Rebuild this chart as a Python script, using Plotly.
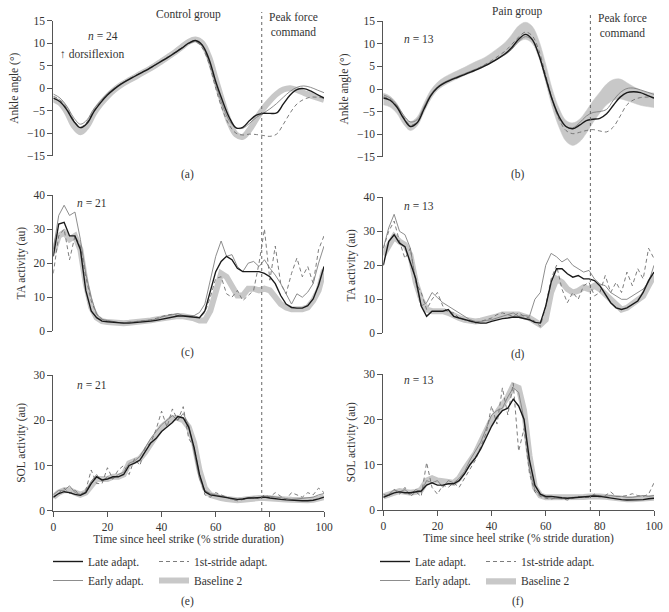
import plotly.graph_objects as go

# ---------------- data ----------------
x_ang = [0, 2.5, 5, 7.5, 10, 12.5, 15, 17.5, 20, 22.5, 25, 27.5, 30, 32.5, 35, 37.5, 40, 42.5, 45, 47.5,
         50, 52.5, 55, 57.5, 60, 62.5, 65, 67.5, 70, 72.5, 75, 77.5, 80, 82.5, 85, 87.5, 90, 92.5, 95, 97.5, 100]
x_emg = [0, 2, 4, 6, 8, 10, 12, 14, 16, 18, 20, 22, 24, 26, 28, 30, 32, 34, 36, 38, 40, 42, 44, 46, 48,
         50, 52, 54, 56, 58, 60, 62, 64, 66, 68, 70, 72, 74, 76, 78, 80, 82, 84, 86, 88, 90, 92, 94, 96, 98, 100]

series_names = ["Late adapt.", "Early adapt.", "1st-stride adapt.", "Baseline 2"]

# (a) ankle angle, control
a_late = [-2.2, -3.0, -4.8, -7.3, -8.8, -7.8, -5.2, -3.2, -1.5, -0.2, 0.9, 1.8, 2.6, 3.4, 4.2, 5.1, 6.0, 6.9, 7.9, 8.9,
          10.0, 10.6, 9.6, 6.5, 1.5, -2.8, -6.5, -8.8, -8.7, -7.2, -6.0, -5.6, -5.6, -5.5, -3.5, -1.5, -0.3, -0.1, -0.6, -1.4, -2.2]
a_early = [-1.3, -2.2, -4.0, -6.5, -8.0, -7.0, -4.6, -2.8, -1.2, 0.0, 1.0, 1.9, 2.7, 3.5, 4.3, 5.2, 6.1, 7.0, 8.0, 9.0,
           10.0, 10.5, 9.4, 6.0, 0.8, -3.8, -7.2, -8.8, -8.9, -7.8, -6.5, -5.6, -4.6, -3.4, -2.0, -0.7, 0.2, 0.5, 0.2, -0.4, -1.0]
a_dash = [-1.8, -2.6, -4.5, -7.0, -8.6, -7.5, -5.0, -3.0, -1.4, -0.1, 1.0, 1.9, 2.7, 3.5, 4.3, 5.2, 6.1, 7.0, 8.0, 9.0,
          9.9, 10.3, 9.0, 5.5, 0.0, -4.8, -8.2, -10.0, -10.4, -10.2, -10.3, -10.5, -10.7, -10.2, -8.0, -5.5, -3.5, -2.5, -2.0, -2.0, -2.2]
a_base = [-2.5, -3.3, -5.3, -8.3, -9.8, -8.4, -5.6, -3.5, -1.8, -0.4, 0.7, 1.6, 2.4, 3.3, 4.1, 5.0, 6.0, 7.0, 8.0, 9.2,
          10.3, 10.8, 10.0, 7.0, 2.0, -3.0, -7.5, -10.3, -10.8, -9.2, -6.8, -4.6, -2.8, -1.3, -0.3, 0.0, -0.4, -1.0, -1.6, -2.1, -2.6]

# (b) ankle angle, pain
b_late = [-2.0, -2.5, -4.0, -6.5, -8.3, -7.5, -4.5, -1.5, 0.3, 1.3, 2.0, 2.6, 3.2, 3.8, 4.4, 5.1, 5.9, 6.8, 7.8, 9.2,
          11.0, 12.1, 11.0, 7.5, 2.5, -2.5, -6.2, -8.3, -8.8, -8.0, -7.0, -6.7, -6.5, -5.5, -3.6, -1.8, -0.8, -0.6, -0.8, -1.4, -2.0]
b_early = [-1.3, -2.0, -3.5, -5.8, -7.3, -6.8, -4.0, -1.2, 0.5, 1.5, 2.2, 2.8, 3.4, 4.0, 4.6, 5.3, 6.0, 6.8, 7.6, 8.8,
           10.5, 11.6, 10.8, 7.5, 2.2, -2.8, -6.5, -8.4, -8.6, -7.5, -6.0, -5.2, -5.0, -4.5, -2.5, -0.8, 0.1, 0.2, -0.2, -0.7, -1.2]
b_dash = [-1.7, -2.3, -3.8, -6.2, -8.0, -7.3, -4.3, -1.4, 0.4, 1.4, 2.1, 2.7, 3.3, 3.9, 4.6, 5.4, 6.3, 7.3, 8.4, 9.9,
          11.5, 12.6, 11.8, 8.5, 3.0, -2.5, -6.8, -9.2, -9.9, -9.6, -9.2, -9.0, -9.3, -9.5, -8.4, -6.0, -3.5, -2.4, -1.9, -1.8, -2.0]
b_base = [-2.2, -2.8, -4.3, -6.8, -8.2, -7.2, -4.2, -1.3, 0.6, 1.7, 2.5, 3.2, 3.9, 4.6, 5.3, 6.0, 6.9, 7.9, 9.0, 10.6,
          12.2, 12.9, 12.0, 8.8, 3.5, -2.2, -6.5, -9.3, -10.0, -9.2, -7.3, -5.0, -3.0, -1.2, -0.2, 0.0, -0.6, -1.3, -1.9, -2.3, -2.5]
b_base_sd = [1.3, 1.2, 1.1, 1.0, 1.0, 1.0, 1.0, 1.0, 0.9, 0.9, 0.9, 0.9, 0.9, 1.0, 1.0, 1.0, 1.1, 1.2, 1.3, 1.5,
             1.8, 1.9, 1.9, 1.9, 2.0, 2.0, 2.1, 2.3, 2.5, 2.5, 2.5, 2.4, 2.3, 2.3, 2.3, 2.2, 2.0, 1.8, 1.7, 1.6, 1.6]

# (c) TA activity, control
c_late = [22, 31.5, 32, 28, 28, 24, 12, 6, 4, 3, 2.8, 2.6, 2.5, 2.4, 2.4, 2.5, 2.6, 2.8, 3.0, 3.2, 3.5, 3.9, 4.3, 4.5, 4.5,
          4.3, 4.0, 4.0, 6.0, 12, 17.5, 20.5, 22, 21, 18.5, 17.5, 17.5, 17.3, 17.5, 17, 16, 14, 10.5, 8, 7, 6.8, 6.8, 7.5, 9.5, 13.5, 19]
c_early = [24, 34, 37, 34, 35, 27, 17, 10, 5, 3.5, 3.2, 2.8, 2.6, 2.5, 2.7, 2.9, 3.0, 3.1, 3.3, 3.5, 4.2, 4.6, 5.0, 5.2, 4.6,
           4.5, 4.6, 5.5, 8, 15, 22, 26.5, 22, 22.5, 19, 17.5, 20, 20.5, 19, 21, 18.5, 16.5, 14, 11, 8, 11, 10, 11.5, 14, 20, 25]
c_dash = [17, 28, 30, 21, 28, 25, 16, 9, 5, 3.5, 3, 2.7, 2.5, 2.5, 2.7, 2.8, 3, 3.2, 3.3, 3.8, 4.3, 4.8, 5.0, 4.6, 4.6,
          4.3, 4.3, 4.0, 5.5, 10, 15.5, 16, 11, 10, 12, 9, 10.5, 12, 20, 30, 15, 25, 14, 11, 17, 21.5, 16, 19, 14, 24, 28]
c_base = [23, 28, 29, 27, 28, 24, 14, 7, 4, 3, 2.7, 2.5, 2.4, 2.4, 2.5, 2.6, 2.8, 3, 3.2, 3.5, 3.8, 4.1, 4.4, 4.5, 4.4,
          4.2, 3.8, 3.2, 3.2, 6, 12, 17, 16, 13, 10.5, 10.5, 12.5, 12.5, 12, 12.5, 12, 10, 8, 7, 6.5, 6.5, 6.5, 7, 9, 12, 18]

# (d) TA activity, pain
d_late = [20, 27, 29, 26.5, 25.5, 21, 16, 8, 5, 6.5, 6.5, 6.5, 7, 5, 4.5, 4, 3.5, 3.2, 3, 3, 3.5, 4, 4.3, 4.5, 4.8,
          4.7, 4.3, 4, 3.2, 3, 8, 15, 19, 19, 17.5, 16.5, 17, 16, 16, 15.5, 14, 11.5, 9, 7.5, 7, 7.5, 8.5, 9.5, 12, 15.5, 18]
d_early = [25, 31, 35, 30, 29, 25, 15, 8, 9, 12, 10.5, 9, 8, 7, 6, 5, 4, 3.5, 3.5, 3.8, 4, 4.5, 5, 5.5, 6,
           5, 5.2, 5, 10, 12, 20, 23.5, 22.5, 21, 22, 20, 19, 18, 18.5, 16, 14.5, 14, 12, 11, 10, 10, 11, 12, 13, 15, 20]
d_dash = [25, 30, 33, 27, 22, 25, 15, 12, 7, 10, 12, 8, 6, 6, 4.5, 4, 3.5, 3, 3.5, 4, 4.5, 5.5, 6, 5.5, 5,
          6, 5, 4.5, 3.5, 2, 8, 16, 20, 13, 9, 12, 10, 14, 15, 11, 12, 17, 12, 15, 12, 18, 14, 19, 16, 25, 22]
d_base = [23, 26, 28.5, 27, 26, 23, 15, 10, 7, 6.5, 6.5, 6.5, 6, 5, 4.5, 4, 3.7, 3.5, 3.7, 4, 4.5, 5, 5.5, 5.5, 5.5,
          5.5, 5, 4.5, 3.5, 2.5, 4, 12, 16, 15, 13, 12, 12.5, 13.5, 13, 14, 13, 11.5, 9.5, 8, 7, 7.5, 8.5, 9.5, 11, 14, 17]

# (e) SOL activity, control
e_late = [3, 3.8, 4.2, 4, 3.6, 3.4, 4, 6, 7.5, 6.8, 7, 7.5, 7.5, 8, 10, 10.5, 11.2, 13, 15, 16, 17.5, 18.5, 19.5, 20.8, 20.5,
          18.5, 14, 8, 4.2, 3.5, 3.3, 3, 2.8, 2.6, 2.5, 2.6, 2.8, 2.8, 2.9, 3, 2.8, 2.6, 2.5, 2.4, 2.3, 2.3, 2.2, 2.2, 2.3, 2.6, 3]
e_early = [3.5, 4.5, 4.5, 5.5, 4, 3.6, 4.2, 6.5, 8, 6.5, 7.5, 7, 8, 8.5, 10.5, 11, 12, 14, 16, 17.5, 19, 20, 21, 20, 21.5,
           19, 13, 7, 4.5, 3.8, 3.5, 3.3, 3, 2.5, 2.4, 2.6, 2.8, 3, 2.8, 3.2, 3.2, 3, 2.8, 2.6, 2.5, 2.6, 2.7, 2.8, 3, 3.5, 3.8]
e_dash = [2.8, 4, 5, 3.8, 4.5, 3.5, 4.5, 9, 6, 6, 9.5, 7, 9, 10, 8, 11.5, 10, 14, 15, 18, 22, 18.5, 22.5, 20, 23,
          16, 14, 8, 3.5, 3, 4, 3.5, 3, 2.5, 2.2, 2.5, 2.7, 3, 2.6, 3.5, 3, 4, 3.2, 2.5, 4, 3.5, 3, 4, 3.5, 5, 4]
e_base = [3, 4, 4.5, 4.5, 4, 3.5, 4, 5.5, 7, 7, 7, 7.5, 7.5, 8, 10.5, 11, 11.5, 13, 15, 17, 18.5, 19.5, 20.5, 20.5, 20,
          18.5, 15, 9, 5, 3.5, 3, 2.8, 2.6, 2.4, 2.3, 2.4, 2.6, 2.7, 2.8, 2.8, 2.8, 2.7, 2.6, 2.5, 2.4, 2.3, 2.3, 2.3, 2.4, 2.6, 3]

# (f) SOL activity, pain
f_late = [2.8, 3.3, 3.8, 4, 3.8, 3.8, 4, 4.2, 5.5, 6, 5.5, 5.5, 5.8, 5.8, 6.5, 8, 10, 11.5, 13.5, 16, 18.5, 20.5, 22, 22.5, 24.5,
          23, 20, 11, 5.5, 3.5, 3, 3, 2.8, 2.7, 2.6, 2.7, 2.8, 2.9, 3, 3.1, 3, 2.8, 2.6, 2.5, 2.3, 2.2, 2.2, 2.3, 2.3, 2.5, 2.6]
f_early = [3, 3.5, 4.5, 4, 4.5, 3.5, 4.5, 4, 6.5, 6, 6.5, 5, 6.5, 6, 7, 8.5, 11, 13, 15, 18, 21, 22, 22.5, 25, 27,
           26, 20, 9, 4.5, 3.2, 2.8, 2.6, 2.5, 2.5, 2.6, 2.8, 2.8, 3, 3, 3.3, 3.2, 3, 3.2, 3, 3, 2.8, 2.8, 3, 3.2, 3, 3.2]
f_dash = [3.5, 3, 4.5, 3.5, 5, 3, 4, 3, 10.5, 5, 3.5, 5.5, 5, 6, 5, 7, 9, 11, 14, 17, 23, 19, 27, 21, 28,
          13, 18, 8, 4, 3, 2.6, 2.4, 2.8, 2.5, 2.2, 2.6, 3, 2.8, 2.8, 3.5, 3, 3.2, 4, 3, 3, 3.2, 3.6, 3.2, 3, 3.5, 6]
f_base = [3, 3.5, 4, 4.2, 4, 3.8, 4, 4.5, 6.5, 7, 6.5, 6.5, 6.2, 6, 7, 9, 10.5, 12.5, 15, 17.5, 20, 21.5, 23, 25, 27.5,
          27, 22, 12, 5, 3.2, 2.8, 2.8, 2.7, 2.6, 2.6, 2.7, 2.8, 2.9, 3, 3.1, 3, 2.9, 2.7, 2.6, 2.5, 2.4, 2.4, 2.4, 2.5, 2.6, 2.7]

peak_force = [77, 76.5]   # % stride of peak force command (control, pain)

# ---------------- styling ----------------
W, H = 669, 612
FONT = "Liberation Serif"
TXT = "#333333"
AX = "#555555"
C_LATE, C_EARLY, C_DASH, C_BASE = "#1a1a1a", "#808080", "#6e6e6e", "#c8c8c8"


def px(x):
    return x / W


def py(y):
    return 1 - y / H


fig = go.Figure()


def add_lines(xs, late, early, dash, base, ax, shape, base_mode="line", base_sd=None, legends=None):
    xa, ya = ("x" + ax, "y" + ax) if ax != "1" else ("x", "y")
    show = legends is not None
    lg1, lg2 = legends if show else ("legend", "legend")
    if base_mode == "line":
        fig.add_trace(go.Scatter(x=xs, y=base, mode="lines", name=series_names[3], xaxis=xa, yaxis=ya,
                                 line=dict(color=C_BASE, width=6, shape=shape), showlegend=show, legend=lg2,
                                 legendrank=2))
    else:
        up = [m + s for m, s in zip(base, base_sd)]
        lo = [m - s for m, s in zip(base, base_sd)]
        fig.add_trace(go.Scatter(x=xs, y=up, mode="lines", xaxis=xa, yaxis=ya, showlegend=False,
                                 line=dict(color=C_BASE, width=0.5, shape=shape), hoverinfo="skip"))
        fig.add_trace(go.Scatter(x=xs, y=lo, mode="lines", name=series_names[3], xaxis=xa, yaxis=ya,
                                 fill="tonexty", fillcolor=C_BASE, line=dict(color=C_BASE, width=0.5, shape=shape),
                                 showlegend=show, legend=lg2, legendrank=2))
    fig.add_trace(go.Scatter(x=xs, y=dash, mode="lines", name=series_names[2], xaxis=xa, yaxis=ya,
                             line=dict(color=C_DASH, width=0.9, dash="4px,3px", shape=shape),
                             showlegend=show, legend=lg2, legendrank=1))
    fig.add_trace(go.Scatter(x=xs, y=early, mode="lines", name=series_names[1], xaxis=xa, yaxis=ya,
                             line=dict(color=C_EARLY, width=0.9, shape=shape),
                             showlegend=show, legend=lg1, legendrank=2))
    fig.add_trace(go.Scatter(x=xs, y=late, mode="lines", name=series_names[0], xaxis=xa, yaxis=ya,
                             line=dict(color=C_LATE, width=1.4, shape=shape),
                             showlegend=show, legend=lg1, legendrank=1))


add_lines(x_ang, a_late, a_early, a_dash, a_base, "1", "spline", legends=("legend", "legend2"))
add_lines(x_ang, b_late, b_early, b_dash, b_base, "2", "spline", base_mode="band", base_sd=b_base_sd,
          legends=("legend3", "legend4"))
add_lines(x_emg, c_late, c_early, c_dash, c_base, "3", "linear")
add_lines(x_emg, d_late, d_early, d_dash, d_base, "4", "linear")
add_lines(x_emg, e_late, e_early, e_dash, e_base, "5", "linear")
add_lines(x_emg, f_late, f_early, f_dash, f_base, "6", "linear")

LX = [px(53.3), px(324)]
RX = [px(383.3), px(654)]
doms = {
    "1": (LX, [py(155.7), py(20.7)], [-15, 15], 5, "Ankle angle (°)"),
    "2": (RX, [py(156.7), py(21.3)], [-15, 15], 5, "Ankle angle (°)"),
    "3": (LX, [py(331.3), py(195)], [0, 40], 10, "TA activity (au)"),
    "4": (RX, [py(333.3), py(197.3)], [0, 40], 10, "TA activity (au)"),
    "5": (LX, [py(510.7), py(375)], [0, 30], 10, "SOL activity (au)"),
    "6": (RX, [py(510), py(374.3)], [0, 30], 10, "SOL activity (au)"),
}
tickfont = dict(family=FONT, size=11.5, color=TXT)
for k, (xd, yd, yr, dt, ttl) in doms.items():
    xn = "xaxis" if k == "1" else "xaxis" + k
    yn = "yaxis" if k == "1" else "yaxis" + k
    anchor_y = "y" if k == "1" else "y" + k
    anchor_x = "x" if k == "1" else "x" + k
    bottom = k in ("5", "6")
    fig.layout[xn] = dict(domain=xd, range=[0, 100], anchor=anchor_y, showgrid=False, zeroline=False,
                          visible=bottom, showline=bottom, linecolor=AX, linewidth=1, automargin=False,
                          ticks="outside" if bottom else "", ticklen=5, tickcolor=AX, tickwidth=1,
                          tickvals=[0, 20, 40, 60, 80, 100], tickfont=tickfont,
                          title=dict(text="Time since heel strike (% stride duration)" if bottom else "",
                                     font=dict(family=FONT, size=11.5, color=TXT), standoff=3))
    fig.layout[yn] = dict(domain=yd, range=yr, anchor=anchor_x, showgrid=False, zeroline=False,
                          showline=True, linecolor=AX, linewidth=1, ticks="outside", ticklen=5,
                          tickcolor=AX, tickwidth=1, dtick=dt, tick0=0, tickfont=tickfont, automargin=False,
                          title=dict(text=ttl, font=dict(family=FONT, size=11.5, color=TXT), standoff=5))

# peak force command markers
fig.add_shape(type="line", xref="x", yref="paper", x0=peak_force[0], x1=peak_force[0], y0=py(511), y1=py(12),
              line=dict(color="#666666", width=1, dash="dot"))
fig.add_shape(type="line", xref="x2", yref="paper", x0=peak_force[1], x1=peak_force[1], y0=py(510), y1=py(12),
              line=dict(color="#666666", width=1, dash="dot"))

ann = []


def txt(x, y, s, xanchor="center", size=11.5):
    ann.append(dict(x=px(x), y=py(y), xref="paper", yref="paper", text=s, showarrow=False,
                    xanchor=xanchor, yanchor="middle", font=dict(family=FONT, size=size, color=TXT)))


txt(188, 14, "Control group")
txt(517, 11, "Pain group")
txt(267, 25, "Peak force<br>command", xanchor="left")
txt(596, 26, "Peak force<br>command", xanchor="left")
txt(103, 36, "<i>n</i> = 24")
txt(92, 54, "↑ dorsiflexion")
txt(419, 39, "<i>n</i> = 13")
txt(92, 203, "<i>n</i> = 21")
txt(419, 206, "<i>n</i> = 13")
txt(92, 385, "<i>n</i> = 21")
txt(419, 380, "<i>n</i> = 13")
txt(187, 174, "(a)")
txt(518, 174, "(b)")
txt(187, 353, "(c)")
txt(518, 354, "(d)")
txt(187, 601, "(e)")
txt(518, 601, "(f)")

legfont = dict(family=FONT, size=11.5, color=TXT)
leg_common = dict(bgcolor="rgba(0,0,0,0)", font=legfont, xanchor="left", yanchor="top",
                  itemwidth=30, tracegroupgap=0, traceorder="normal")

fig.update_layout(
    width=W, height=H, margin=dict(l=0, r=0, t=0, b=0, autoexpand=False),
    paper_bgcolor="white", plot_bgcolor="white",
    font=dict(family=FONT, size=11.5, color=TXT),
    annotations=ann,
    legend=dict(x=px(48), y=py(547), **leg_common),
    legend2=dict(x=px(154), y=py(547), **leg_common),
    legend3=dict(x=px(375), y=py(547), **leg_common),
    legend4=dict(x=px(481), y=py(547), **leg_common),
)

fig.write_html("out.html", config={"displayModeBar": False},
               post_script="document.body.style.margin='0px';document.body.style.overflow='hidden';")
